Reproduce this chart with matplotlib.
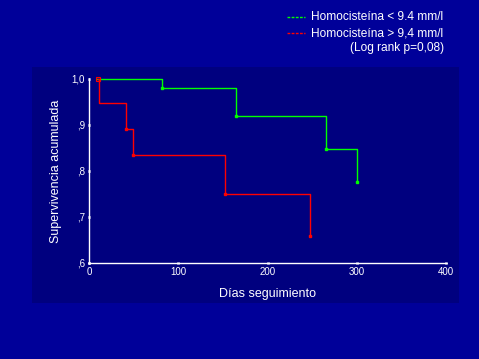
import matplotlib
matplotlib.use("Agg")
import matplotlib.pyplot as plt

plt.rcParams['font.family'] = ['Liberation Sans', 'DejaVu Sans']

# Data (Kaplan-Meier steps)
green_t = [9.5, 82, 165, 265, 300]
green_s = [1.0, 0.981, 0.920, 0.847, 0.777]
red_t = [10, 11.5, 41, 49, 152, 248]
red_s = [1.0, 0.947, 0.891, 0.834, 0.751, 0.658]

xticks = [0, 100, 200, 300, 400]
yticks = [0.6, 0.7, 0.8, 0.9, 1.0]
ytick_labels = [",6", ",7", ",8", ",9", "1,0"]
legend_labels = ["Homocisteína < 9.4 mm/l", "Homocisteína > 9,4 mm/l", "(Log rank p=0,08)"]

W, H = 479, 359
fig = plt.figure(figsize=(W / 100, H / 100), dpi=100)
fig.patch.set_facecolor('#000099')

# inner darker panel
bg = fig.add_axes([32 / W, 1 - 303 / H, (459 - 32) / W, (303 - 67) / H], zorder=-5)
bg.set_facecolor('#00007F')
bg.set_xticks([]); bg.set_yticks([])
for s in bg.spines.values():
    s.set_visible(False)

ax = fig.add_axes([89 / W, 1 - 263 / H, (446 - 89) / W, (263 - 79) / H], zorder=1)
ax.set_facecolor('none')
ax.set_xlim(0, 400)
ax.set_ylim(0.6, 1.0)

def steps(t, s):
    xs, ys = [t[0]], [s[0]]
    for i in range(1, len(t)):
        xs += [t[i], t[i]]
        ys += [s[i - 1], s[i]]
    return xs, ys

gx, gy = steps(green_t, green_s)
ax.plot(gx, gy, color='#00FF00', lw=1.0, clip_on=False)
ax.plot(green_t[1:-1], green_s[1:-1], 's', color='#00FF00', ms=2.0, clip_on=False)
ax.plot(green_t[-1:], green_s[-1:], 's', color='#00FF00', ms=1.5, clip_on=False)

rx, ry = steps(red_t, red_s)
ax.plot(rx, ry, color='#FF0000', lw=1.0, clip_on=False)
ax.plot(red_t[2:], red_s[2:], 's', color='#FF0000', ms=2.0, clip_on=False)
ax.plot([red_t[0]], [red_s[0]], 's', mfc='none', mec='#FF0000', ms=3, mew=0.8, clip_on=False)

for side in ['top', 'right']:
    ax.spines[side].set_visible(False)
for side in ['left', 'bottom']:
    ax.spines[side].set_color('white')
    ax.spines[side].set_linewidth(1.0)

ax.set_xticks(xticks)
ax.set_xticklabels([str(v) for v in xticks])
ax.set_yticks(yticks)
ax.set_yticklabels(ytick_labels)
ax.tick_params(colors='white', labelsize=7, length=2, width=2, direction='inout', pad=2)

ax.set_xlabel("Días seguimiento", color='white', fontsize=9, labelpad=8)
ax.set_ylabel("Supervivencia acumulada", color='white', fontsize=9, labelpad=7)

# legend
ys_leg = [17, 33]
cols = ['#00FF00', '#FF0000']
for yy, c, lab in zip(ys_leg, cols, legend_labels[:2]):
    fig.add_artist(plt.Line2D([287 / W, 305 / W], [1 - yy / H, 1 - yy / H],
                              color=c, lw=1, ls=(0, (2, 1)), transform=fig.transFigure))
    fig.text(311 / W, 1 - yy / H, lab, color='white', fontsize=8.6, va='center', ha='left')
fig.text(444 / W, 1 - 48 / H, legend_labels[2], color='white', fontsize=8.6, va='center', ha='right')

fig.savefig('out.png', dpi=100, facecolor=fig.get_facecolor())
